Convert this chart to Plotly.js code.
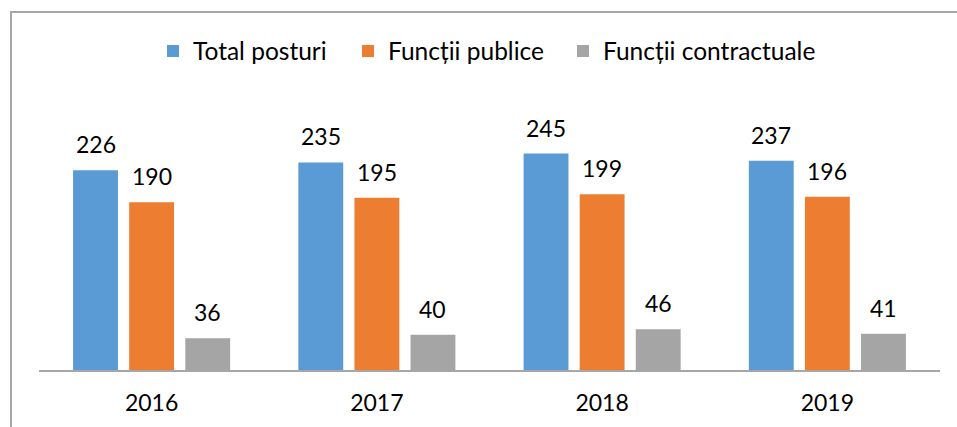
<!DOCTYPE html>
<html>
<head>
<meta charset="utf-8">
<script src="https://cdn.plot.ly/plotly-3.0.1.min.js"></script>
<style>
  html, body { margin: 0; padding: 0; background: #fff; }
  #wrap { position: relative; width: 957px; height: 427px; overflow: hidden; }
  #frame { position: absolute; left: 10px; top: 11px; width: 960px; height: 430px;
           border-top: 2px solid #a6a6a6; border-left: 2px solid #a6a6a6; box-sizing: border-box; }
  #chart { position: absolute; left: 0; top: 0; width: 957px; height: 427px; }
</style>
</head>
<body>
<div id="wrap">
  <div id="frame"></div>
  <div id="chart"></div>
</div>
<script>
const categories = ["2016", "2017", "2018", "2019"];
const seriesNames = ["Total posturi", "Funcții publice", "Funcții contractuale"];
const totalPosturi = [226, 235, 245, 237];
const functiiPublice = [190, 195, 199, 196];
const functiiContractuale = [36, 40, 46, 41];
const seriesValues = [totalPosturi, functiiPublice, functiiContractuale];
const seriesColors = ["#5B9BD5", "#ED7D31", "#A5A5A5"];

const FONT = "Lato, 'Open Sans', sans-serif";
const bargap = 0.253;
const bargroupgap = 0.2;
const legendIds = ["legend", "legend2", "legend3"];
const legendLeftPx = [153, 348, 563];

const traces = seriesValues.map((vals, i) => ({
  type: "bar",
  name: seriesNames[i],
  x: categories,
  y: vals,
  legend: legendIds[i],
  marker: { color: seriesColors[i] },
  hoverinfo: "skip"
}));

const annotations = [];
const slot = (1 - bargap) / seriesValues.length;
seriesValues.forEach((vals, i) => {
  vals.forEach((v, j) => {
    annotations.push({
      xref: "x", yref: "y",
      x: j + (i - (seriesValues.length - 1) / 2) * slot,
      y: v,
      text: String(v),
      showarrow: false,
      yanchor: "bottom",
      yshift: 10,
      font: { family: FONT, size: 23, color: "#000" }
    });
  });
});

const layout = {
  width: 957, height: 427,
  margin: { l: 39, r: 17, t: 105, b: 57, pad: 0 },
  paper_bgcolor: "rgba(0,0,0,0)",
  plot_bgcolor: "rgba(0,0,0,0)",
  barmode: "group",
  bargap: bargap,
  bargroupgap: bargroupgap,
  showlegend: true,
  xaxis: {
    type: "category",
    showline: true, linecolor: "#a6a6a6", linewidth: 2,
    showgrid: false, zeroline: false, ticks: "",
    ticklabelstandoff: 11,
    tickfont: { family: FONT, size: 23, color: "#000" }
  },
  yaxis: {
    range: [0, 300],
    visible: false, showgrid: false, zeroline: false
  },
  annotations: annotations
};

legendIds.forEach((id, i) => {
  layout[id] = {
    orientation: "h",
    xref: "container", yref: "container",
    x: legendLeftPx[i] / 957, xanchor: "left",
    y: 1 - 51 / 427, yanchor: "middle",
    bgcolor: "rgba(0,0,0,0)",
    font: { family: FONT, size: 24.5, color: "#000" },
    itemclick: false, itemdoubleclick: false
  };
});

Plotly.newPlot("chart", traces, layout, { displayModeBar: false, staticPlot: true });
</script>
</body>
</html>
